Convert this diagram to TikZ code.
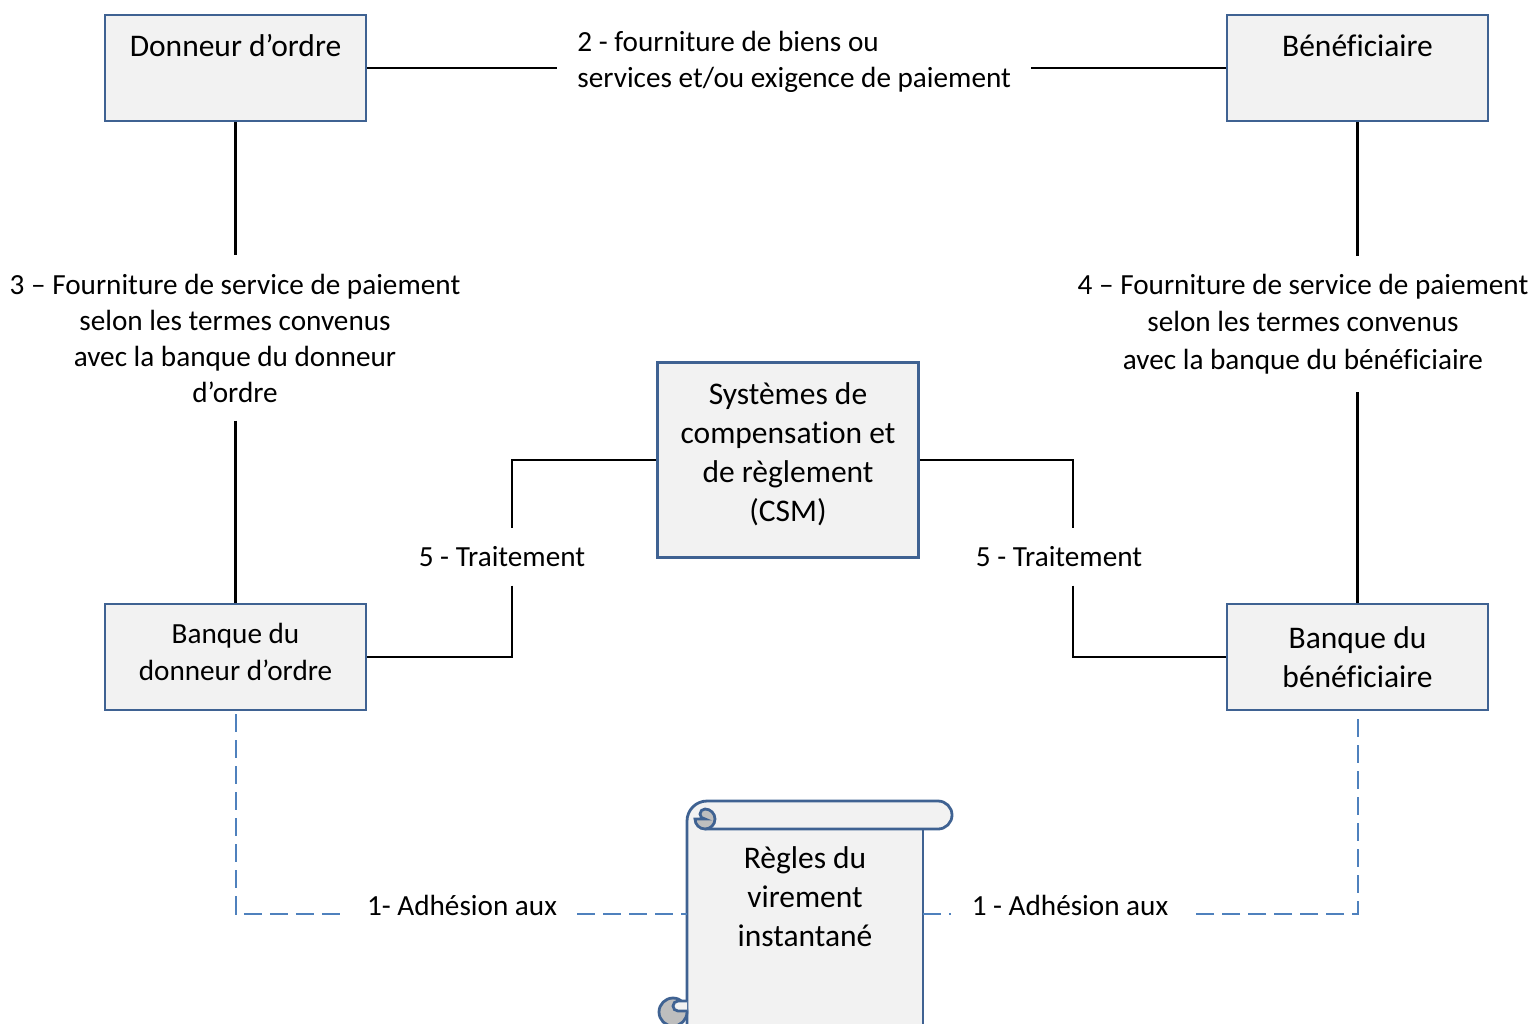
\documentclass[tikz,border=0pt]{standalone}
\usepackage{fontspec}
\setmainfont{Carlito}[Ligatures=NoCommon]
\usetikzlibrary{positioning}

\definecolor{boxblue}{RGB}{63,98,146}
\definecolor{dashblue}{RGB}{79,129,189}
\definecolor{boxfill}{RGB}{242,242,242}
\definecolor{curlgray}{RGB}{190,190,190}

\begin{document}
\begin{tikzpicture}[x=0.5pt, y=-0.5pt,
  box/.style = {draw=boxblue, line width=1.4pt, fill=boxfill, minimum width=130.5pt, minimum height=53pt, align=center, inner sep=0pt, font=\fontsize{15.75}{19.5}\selectfont},
  lab/.style = {align=center, inner ysep=9pt, font=\fontsize{14.6}{18}\selectfont},
  wire/.style = {line width=1.2pt},
  adh/.style = {dashblue, line width=1pt, dash pattern=on 9pt off 4pt},
  scrl/.style = {draw=boxblue, line width=1.4pt}]
\useasboundingbox (0,0) rectangle (1534,1023);
\clip (0,0) rectangle (1534,1023);

% the four parties and the CSM
\node[box, text height=10pt, text depth=22pt] (don) at (235.5,68) {Donneur d’ordre};
\node[box, text height=10pt, text depth=22pt] (ben) at (1357.5,68) {Bénéficiaire};
\node[box, font=\fontsize{14.6}{18.5}\selectfont, text depth=5.5pt] (bd) at (235.5,657) {Banque du\\donneur d’ordre};
\node[box] (bb) at (1357.5,657) {Banque du\\bénéficiaire};
\node[box, minimum height=97.5pt, text depth=7.5pt] (csm) at (788,460) {Systèmes de\\compensation et\\de règlement\\(CSM)};

% labels
\node[lab, align=left, anchor=west, inner xsep=10pt] (l2) at (557,62) {2 - fourniture de biens ou\\services et/ou exigence de paiement};
\node[lab] (l3) at (235,338) {3 – Fourniture de service de paiement\\selon les termes convenus\\avec la banque du donneur\\d’ordre};
\node[lab, font=\fontsize{14.6}{18.75}\selectfont] (l4) at (1303,324) {4 – Fourniture de service de paiement\\selon les termes convenus\\avec la banque du bénéficiaire};
\node[lab] (l5a) at (502,557) {5 - Traitement};
\node[lab] (l5b) at (1059,557) {5 - Traitement};
\node[lab, inner xsep=10pt] (a1) at (462,905) {1- Adhésion aux};
\node[lab, inner xsep=10pt] (a2) at (1070,905) {1 - Adhésion aux};

% scroll
\fill[boxfill] (687,1040) -- (687,821) arc[start angle=180, end angle=270, radius=20] -- (938,801) arc[start angle=-90, end angle=90, radius=14] -- (923,829) -- (923,1040) -- cycle;
\draw[scrl] (687,1040) -- (687,821) arc[start angle=180, end angle=270, radius=20] -- (938,801) arc[start angle=-90, end angle=90, radius=14] -- (705,829);
\draw[scrl] (923,829) -- (923,1040);
\filldraw[scrl, fill=curlgray] (705,829) arc[start angle=90, end angle=-90, radius=10] arc[start angle=-90, end angle=-270, radius=5] -- (695,819) arc[start angle=180, end angle=90, radius=10];
\filldraw[scrl, fill=curlgray] (673,1012) circle[radius=14];
\filldraw[scrl, fill=boxfill] (687,1001) -- (678,1001) arc[start angle=-90, end angle=-270, radius=5] -- (687,1011);
\node[font=\fontsize{15.75}{19.5}\selectfont, align=center] (regles) at (805,897) {Règles du\\virement\\instantané};
\coordinate (rl) at (687,914);
\coordinate (rr) at (923,914);

% connectors
\draw[wire] (don.east) -- (l2.west |- don.east);
\draw[wire] (l2.east |- ben.west) -- (ben.west);
\draw[wire] (don.south) -- (don.south |- l3.north);
\draw[wire] (bd.north |- l3.south) -- (bd.north);
\draw[wire] (ben.south) -- (ben.south |- l4.north);
\draw[wire] (bb.north |- l4.south) -- (bb.north);
\draw[wire] (csm.west) -| ([xshift=5pt]l5a.north);
\draw[wire] ([xshift=5pt]l5a.south) |- (bd.east);
\draw[wire] (csm.east) -| ([xshift=7pt]l5b.north);
\draw[wire] ([xshift=7pt]l5b.south) |- (bb.west);

\draw[adh] ([yshift=-1.5pt]bd.south) |- (a1.west |- rl);
\draw[adh] (a1.east |- rl) -- (rl);
\draw[adh] (rr) -- (a2.west |- rr);
\draw[adh] ([yshift=-4pt]bb.south) |- (a2.east |- rr);
\end{tikzpicture}
\end{document}
